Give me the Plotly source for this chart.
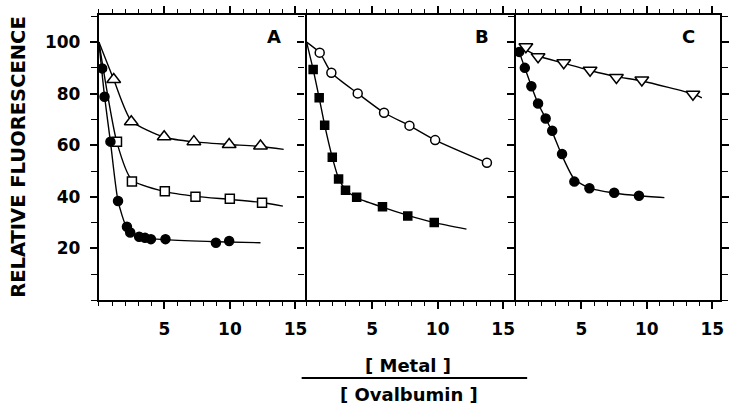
import plotly.graph_objects as go

W, H = 729, 405

# ---------------- data ----------------
# Panel A
A_tri_x = [1.13, 2.47, 4.98, 7.25, 9.94, 12.33]
A_tri_y = [85.5, 69.1, 63.3, 61.4, 60.3, 59.7]
A_tri_fit_x = [0, 1.13, 2.47, 4.98, 7.25, 9.94, 12.33, 14.1]
A_tri_fit_y = [100, 85.5, 69.5, 63.1, 61.3, 60.3, 59.5, 58.4]

A_sq_x = [1.38, 2.52, 5.03, 7.37, 9.99, 12.45]
A_sq_y = [61.4, 45.9, 42.2, 40.0, 39.3, 37.7]
A_sq_fit_x = [0, 1.38, 2.52, 5.03, 7.37, 9.99, 12.45, 14.04]
A_sq_fit_y = [100, 61.0, 46.5, 42.0, 40.2, 39.0, 37.8, 36.4]

A_dot_x = [0.25, 0.43, 0.88, 1.46, 2.14, 2.39, 3.07, 3.52, 3.97, 5.08, 8.93, 9.94]
A_dot_y = [89.8, 78.8, 61.4, 38.4, 28.4, 26.2, 24.5, 24.1, 23.6, 23.6, 22.2, 22.9]
A_dot_fit_x = [0, 0.43, 0.88, 1.46, 2.14, 3.07, 5.08, 8.93, 12.33]
A_dot_fit_y = [100, 79.0, 61.4, 38.4, 28.0, 24.4, 23.4, 22.6, 22.2]

# Panel B
B_circ_x = [1.0, 1.89, 3.9, 5.91, 7.85, 9.81, 13.76]
B_circ_y = [95.9, 88.1, 80.1, 72.6, 67.6, 62.0, 53.2]
B_circ_fit_x = [0, 1.0, 1.89, 3.9, 5.91, 7.85, 9.81, 13.76]
B_circ_fit_y = [100, 95.9, 88.1, 80.1, 72.6, 67.6, 62.0, 53.2]

B_sq_x = [0.5, 0.96, 1.38, 1.96, 2.44, 2.97, 3.82, 5.79, 7.72, 9.74]
B_sq_y = [89.4, 78.4, 67.8, 55.3, 46.9, 42.6, 39.8, 36.2, 32.6, 30.0]
B_sq_fit_x = [0, 0.5, 0.96, 1.38, 1.96, 2.44, 2.97, 3.82, 5.79, 7.72, 9.74, 12.2]
B_sq_fit_y = [100, 89.4, 78.4, 67.8, 55.3, 47.2, 42.8, 39.6, 36.0, 32.8, 30.0, 27.5]

# Panel C
C_tri_x = [0.77, 1.7, 3.66, 5.67, 7.68, 9.62, 13.52]
C_tri_y = [98.2, 94.3, 92.0, 89.1, 86.3, 85.3, 79.8]
C_tri_fit_x = [0.77, 1.7, 3.66, 5.67, 7.68, 9.62, 13.52, 14.2]
C_tri_fit_y = [97.0, 94.6, 91.8, 89.0, 86.6, 84.9, 79.9, 78.4]

C_dot_x = [0.26, 0.69, 1.19, 1.7, 2.28, 2.78, 3.53, 4.47, 5.62, 7.51, 9.4]
C_dot_y = [96.2, 90.0, 82.9, 76.2, 70.4, 65.6, 56.6, 45.9, 43.3, 41.6, 40.4]
C_dot_fit_x = [0.26, 0.69, 1.19, 1.7, 2.28, 2.78, 3.53, 4.47, 5.62, 7.51, 9.4, 11.34]
C_dot_fit_y = [96.2, 90.0, 82.9, 76.2, 70.4, 65.2, 56.0, 46.8, 43.4, 41.5, 40.4, 39.7]

x_tick_vals = [5, 10, 15]
x_tick_text = ["5", "10", "15"]
y_tick_vals = [20, 40, 60, 80, 100]
y_tick_text = ["20", "40", "60", "80", "100"]
panel_labels = ["A", "B", "C"]
y_title = "RELATIVE FLUORESCENCE"
x_title_num = "[ Metal ]"
x_title_den = "[ Ovalbumin ]"

# ---------------- figure ----------------
fig = go.Figure()
BLACK = "black"


def add_series(xa, ya, fx, fy, symbol, fill, size, axis):
    xr, yr = axis
    fig.add_trace(go.Scatter(x=fx, y=fy, mode="lines",
                             line=dict(color=BLACK, width=1.4, shape="spline", smoothing=0.6),
                             xaxis=xr, yaxis=yr, hoverinfo="skip", showlegend=False))
    fig.add_trace(go.Scatter(x=xa, y=ya, mode="markers",
                             marker=dict(symbol=symbol, size=size, color=fill,
                                         line=dict(color=BLACK, width=1.5)),
                             xaxis=xr, yaxis=yr, showlegend=False))


add_series(A_tri_x, A_tri_y, A_tri_fit_x, A_tri_fit_y, "triangle-up", "white", 12, ("x", "y"))
add_series(A_sq_x, A_sq_y, A_sq_fit_x, A_sq_fit_y, "square", "white", 9, ("x", "y"))
add_series(A_dot_x, A_dot_y, A_dot_fit_x, A_dot_fit_y, "circle", BLACK, 9, ("x", "y"))
add_series(B_circ_x, B_circ_y, B_circ_fit_x, B_circ_fit_y, "circle", "white", 9, ("x2", "y2"))
add_series(B_sq_x, B_sq_y, B_sq_fit_x, B_sq_fit_y, "square", BLACK, 8, ("x2", "y2"))
add_series(C_tri_x, C_tri_y, C_tri_fit_x, C_tri_fit_y, "triangle-down", "white", 12, ("x3", "y3"))
add_series(C_dot_x, C_dot_y, C_dot_fit_x, C_dot_fit_y, "circle", BLACK, 9, ("x3", "y3"))

tick_font = dict(family="DejaVu Sans", size=17, color=BLACK, weight="bold")

ybot = 1 - 300 / H
ytop = 1 - 15 / H
px_unit = 13.25
panels = [(100, 310), (310, 521.5), (521.5, 728)]

for i, (l, r) in enumerate(panels):
    sfx = "" if i == 0 else str(i + 1)
    fig.layout["xaxis" + sfx] = dict(
        domain=[l / W, r / W], range=[0, (r - l) / px_unit],
        anchor="y" + sfx, tickmode="array", tickvals=x_tick_vals, ticktext=x_tick_text,
        ticks="outside", ticklen=7, tickwidth=1.5, tickcolor=BLACK,
        minor=dict(dtick=1, tick0=0, ticks="outside", ticklen=4, tickwidth=1.2, tickcolor=BLACK),
        showline=True, linecolor=BLACK, linewidth=2.2, mirror="ticks",
        showgrid=False, zeroline=False, tickfont=tick_font, ticklabelstandoff=5,
    )
    fig.layout["yaxis" + sfx] = dict(
        domain=[ybot, ytop], range=[0, 110.5], anchor="x" + sfx,
        tickmode="array", tickvals=y_tick_vals, ticktext=y_tick_text,
        ticks="outside", ticklen=7, tickwidth=1.5, tickcolor=BLACK,
        minor=dict(dtick=10, tick0=0, ticks="outside", ticklen=6, tickwidth=1.2, tickcolor=BLACK),
        showline=True, linecolor=BLACK, linewidth=2.2,
        mirror=("ticks" if i == 2 else False),
        showticklabels=(i == 0),
        showgrid=False, zeroline=False, tickfont=tick_font, ticklabelstandoff=6,
    )

annotations = []
letter_pos = [(277, 37), (487, 37), (696, 37)]
for lab, (px, py) in zip(panel_labels, letter_pos):
    annotations.append(dict(x=px / W, y=1 - py / H, xref="paper", yref="paper",
                            text=lab, showarrow=False, xanchor="center", yanchor="middle",
                            font=dict(family="DejaVu Sans", size=18, color=BLACK, weight="bold")))

annotations.append(dict(x=18 / W, y=1 - 157 / H, xref="paper", yref="paper", text=y_title,
                        textangle=-90, showarrow=False, xanchor="center", yanchor="middle",
                        font=dict(family="DejaVu Sans", size=19.5, color=BLACK, weight="bold")))
annotations.append(dict(x=413 / W, y=1 - 365 / H, xref="paper", yref="paper", text=x_title_num,
                        showarrow=False, xanchor="center", yanchor="middle",
                        font=dict(family="DejaVu Sans", size=18, color=BLACK, weight="bold")))
annotations.append(dict(x=414 / W, y=1 - 394 / H, xref="paper", yref="paper", text=x_title_den,
                        showarrow=False, xanchor="center", yanchor="middle",
                        font=dict(family="DejaVu Sans", size=18, color=BLACK, weight="bold")))

fig.update_layout(
    width=W, height=H, margin=dict(l=0, r=0, t=0, b=0),
    paper_bgcolor="white", plot_bgcolor="white",
    annotations=annotations,
    shapes=[dict(type="line", xref="paper", yref="paper",
                 x0=305 / W, x1=533 / W, y0=1 - 378 / H, y1=1 - 378 / H,
                 line=dict(color=BLACK, width=2))],
)

fig.write_html("out.html")
